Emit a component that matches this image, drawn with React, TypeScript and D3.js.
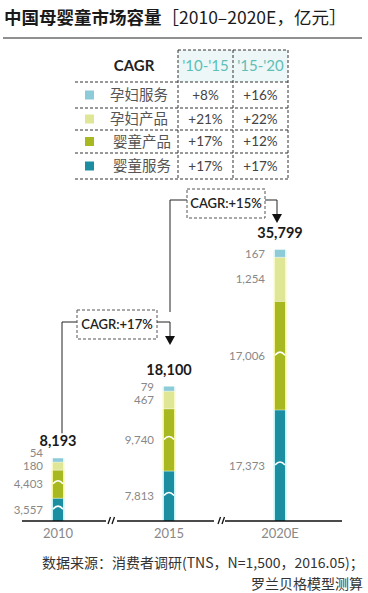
import React from "react";
import * as d3 from "d3";

// values (亿元)
const years = ["2010", "2015", "2020E"];
const infantServices = [3557, 7813, 17373];
const infantProducts = [4403, 9740, 17006];
const maternalProducts = [180, 467, 1254];
const maternalServices = [54, 79, 167];
const totals = ["8,193", "18,100", "35,799"];

const tableCats = ["孕妇服务", "孕妇产品", "婴童产品", "婴童服务"];
const cagr1015 = ["+8%", "+21%", "+17%", "+17%"];
const cagr1520 = ["+16%", "+22%", "+12%", "+17%"];
const periodLabels = ["'10-'15", "'15-'20"];
const totalCagr = ["CAGR:+17%", "CAGR:+15%"];

const colors: Record<string, string> = {
  孕妇服务: "#8ecbd8",
  孕妇产品: "#dfe796",
  婴童产品: "#a7b820",
  婴童服务: "#1b8ea2",
};
const glow: Record<string, string> = {
  孕妇服务: "#d6f1f4",
  孕妇产品: "#f8f8b8",
  婴童产品: "#f3f27c",
  婴童服务: "#b2f1f4",
};

const cjk = "'Noto Sans CJK SC', sans-serif";
const num = "Lato, 'Noto Sans CJK SC', sans-serif";

const baseY = 521;
const barW = 10;

export default function App() {
  const x = d3.scalePoint<string>().domain(years).range([58, 280]);
  // bars are drawn with axis breaks: the two infant series to one scale,
  // the small maternal series magnified on another
  const hInfant = d3.scaleLinear().domain([0, 17373]).range([0, 111]);
  const hMaternal = d3.scaleLinear().domain([0, 1254]).range([2, 44]);

  const bars = years.map((yr, i) => {
    const parts = [
      { cat: "婴童服务", v: infantServices[i], h: hInfant(infantServices[i]), brk: true },
      { cat: "婴童产品", v: infantProducts[i], h: hInfant(infantProducts[i]), brk: true },
      { cat: "孕妇产品", v: maternalProducts[i], h: hMaternal(maternalProducts[i]), brk: false },
      { cat: "孕妇服务", v: maternalServices[i], h: hMaternal(maternalServices[i]), brk: false },
    ];
    let y = baseY;
    let lastLabel = Infinity;
    const segs = parts.map((p) => {
      const y1 = y - p.h;
      const c = (y + y1) / 2;
      const ly = Math.min(c, lastLabel - 13.5);
      lastLabel = ly;
      const s = { ...p, y0: y, y1, ly };
      y = y1;
      return s;
    });
    return { yr, cx: x(yr) as number, segs, top: y, total: totals[i] };
  });

  const fmt = d3.format(",");

  // table layout
  const tLeft = 75;
  const cols = [178, 233, 288];
  const rows = [50, 82, 108, 130, 153, 179];
  const dash = "3,2";

  const arrow = (tx: number, ty: number) =>
    `M${tx - 5},${ty - 9}L${tx + 5},${ty - 9}L${tx},${ty}Z`;

  const b0 = bars[0], b1 = bars[1], b2 = bars[2];

  return (
    <svg
      width={368}
      height={593}
      style={{ position: "absolute", left: 0, top: 0, background: "#fff" }}
    >
      {/* title */}
      <text x={4} y={24} fontFamily={cjk} fontSize={17.5} fill="#1a1a1a">
        <tspan fontWeight="bold">中国母婴童市场容量</tspan>
        <tspan fontWeight="normal">［2010–2020E，亿元］</tspan>
      </text>
      <line x1={3} x2={362} y1={38} y2={38} stroke="#222" strokeWidth={1.2} />

      {/* CAGR table */}
      <rect x={cols[0]} y={rows[0]} width={cols[2] - cols[0]} height={rows[1] - rows[0]} fill="#eef7f8" />
      <line x1={cols[0]} x2={cols[2]} y1={rows[0]} y2={rows[0]} stroke="#333" strokeDasharray={dash} />
      {rows.slice(1).map((r) => (
        <line key={r} x1={tLeft} x2={cols[2]} y1={r} y2={r} stroke="#333" strokeDasharray={dash} />
      ))}
      {cols.map((c) => (
        <line key={c} x1={c} x2={c} y1={rows[0]} y2={rows[5]} stroke="#333" strokeDasharray={dash} />
      ))}
      <text x={134} y={71} textAnchor="middle" fontFamily={num} fontWeight="bold" fontSize={15} fill="#222">
        CAGR
      </text>
      {periodLabels.map((p, i) => (
        <text
          key={p}
          x={(cols[i] + cols[i + 1]) / 2}
          y={71}
          textAnchor="middle"
          fontFamily={num}
          fontSize={15}
          fill="#5dbfb5"
        >
          {p}
        </text>
      ))}
      {tableCats.map((cat, i) => {
        const cy = (rows[i + 1] + rows[i + 2]) / 2;
        return (
          <g key={cat}>
            <rect x={85} y={cy - 4.5} width={9} height={9} fill={colors[cat]} />
            <text x={i < 2 ? 110 : 113} y={cy} dy="0.36em" fontFamily={cjk} fontSize={14.5} fill="#555">
              {cat}
            </text>
            <text x={(cols[0] + cols[1]) / 2} y={cy} dy="0.36em" textAnchor="middle" fontFamily={num} fontSize={13.5} fill="#444">
              {cagr1015[i]}
            </text>
            <text x={(cols[1] + cols[2]) / 2} y={cy} dy="0.36em" textAnchor="middle" fontFamily={num} fontSize={13.5} fill="#444">
              {cagr1520[i]}
            </text>
          </g>
        );
      })}

      {/* CAGR 2015 -> 2020 */}
      <path d={`M${b1.cx + 1},312V200H187`} fill="none" stroke="#222" strokeWidth={1} />
      <rect x={187} y={189} width={78} height={29} fill="#fff" stroke="#555" strokeDasharray={dash} />
      <text x={226} y={203.5} dy="0.36em" textAnchor="middle" fontFamily={num} fontWeight={600} fontSize={13} fill="#222">
        {totalCagr[1]}
      </text>
      <path d={`M265,200H${b2.cx - 3}V214`} fill="none" stroke="#222" strokeWidth={1} />
      <path d={arrow(b2.cx - 3, 223)} fill="#111" />

      {/* CAGR 2010 -> 2015 */}
      <path d={`M${b0.cx + 4},${b0.top - 25}V322H77`} fill="none" stroke="#222" strokeWidth={1} />
      <rect x={77} y={310} width={80} height={29} fill="#fff" stroke="#555" strokeDasharray={dash} />
      <text x={117} y={324.5} dy="0.36em" textAnchor="middle" fontFamily={num} fontWeight={600} fontSize={13} fill="#222">
        {totalCagr[0]}
      </text>
      <path d={`M157,322H${b1.cx + 1}V336`} fill="none" stroke="#222" strokeWidth={1} />
      <path d={arrow(b1.cx + 1, 345)} fill="#111" />

      {/* bars */}
      {bars.map((b) => (
        <g key={b.yr}>
          {b.segs.map((s) => (
            <rect
              key={s.cat + "g"}
              x={b.cx - barW / 2 - 1.5}
              y={s.y1}
              width={barW + 3}
              height={s.y0 - s.y1}
              fill={glow[s.cat]}
              opacity={0.8}
            />
          ))}
          {b.segs.map((s) => (
            <rect
              key={s.cat}
              x={b.cx - barW / 2}
              y={s.y1}
              width={barW}
              height={s.y0 - s.y1}
              fill={colors[s.cat]}
            />
          ))}
          {b.segs.map((s, j) =>
            j > 0 ? (
              <line key={s.cat + "sep"} x1={b.cx - barW / 2} x2={b.cx + barW / 2} y1={s.y0} y2={s.y0} stroke="#fff" strokeOpacity={0.6} strokeWidth={0.8} />
            ) : null
          )}
          {b.segs
            .filter((s) => s.brk)
            .map((s) => {
              const yb = (s.y0 + s.y1) / 2 - 3;
              return (
                <path
                  key={s.cat + "brk"}
                  d={`M${b.cx - barW / 2},${yb + 2.5}Q${b.cx},${yb - 3.5} ${b.cx + barW / 2},${yb + 2.5}`}
                  fill="none"
                  stroke="#fff"
                  strokeWidth={1.6}
                />
              );
            })}
          {b.segs.map((s) => (
            <text
              key={s.cat + "t"}
              x={b.cx - barW / 2 - 10}
              y={s.ly}
              dy="0.36em"
              textAnchor="end"
              fontFamily={num}
              fontSize={11.5}
              fill="#888"
            >
              {fmt(s.v)}
            </text>
          ))}
          <text
            x={b.cx}
            y={b.top - 12}
            textAnchor="middle"
            fontFamily={num}
            fontWeight="bold"
            fontSize={14.5}
            fill="#1a1a1a"
          >
            {b.total}
          </text>
          <text x={b.cx} y={538} textAnchor="middle" fontFamily={num} fontSize={13} fill="#888">
            {b.yr}
          </text>
        </g>
      ))}

      {/* broken baseline */}
      <path
        d={`M22,${baseY}H106M117,${baseY}H214M225,${baseY}H342`}
        stroke="#111"
        strokeWidth={1.6}
        fill="none"
      />
      {[108, 218].map((bx) => (
        <path
          key={bx}
          d={`M${bx},${baseY + 3}L${bx + 2.5},${baseY - 4}M${bx + 4},${baseY + 3}L${bx + 6.5},${baseY - 4}`}
          stroke="#111"
          strokeWidth={1.3}
          fill="none"
        />
      ))}

      {/* source */}
      <text x={42} y={568} fontFamily={cjk} fontSize={14} fill="#333">
        数据来源：消费者调研(TNS，N=1,500，2016.05)；
      </text>
      <text x={363} y={589} textAnchor="end" fontFamily={cjk} fontSize={14} fill="#333">
        罗兰贝格模型测算
      </text>
    </svg>
  );
}
